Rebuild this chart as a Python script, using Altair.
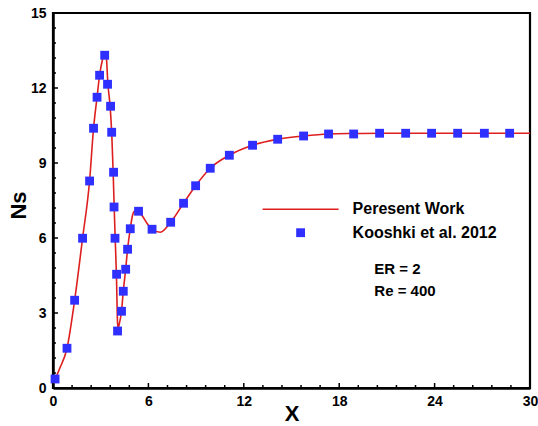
import altair as alt
import pandas as pd

# Present work (smooth line)
line_x = [0.0, 0.4, 0.88, 1.36, 1.86, 2.30, 2.55, 2.77, 2.93, 3.10, 3.28, 3.36, 3.45, 3.60,
          3.70, 3.78, 3.85, 3.91, 3.99, 4.06, 4.10, 4.18, 4.31, 4.42, 4.57, 4.69, 4.86, 5.00,
          5.15, 5.38, 5.60, 5.91, 6.23, 6.75, 7.40, 8.21, 8.97, 9.89, 11.09, 12.55, 14.13,
          15.76, 17.33, 18.91, 20.54, 22.5, 25.0, 30.0]
line_y = [0.15, 0.75, 1.59, 3.51, 5.99, 8.28, 10.39, 11.63, 12.51, 13.1, 13.45, 13.2, 12.2, 11.2,
          10.1, 8.7, 7.2, 6.0, 4.5, 2.6, 2.4, 2.6, 3.07, 3.87, 4.75, 5.55, 6.37, 6.9,
          7.08, 7.07, 6.9, 6.59, 6.35, 6.23, 6.63, 7.39, 8.09, 8.79, 9.31, 9.71, 9.95,
          10.08, 10.16, 10.18, 10.19, 10.19, 10.19, 10.19]

# Kooshki et al. 2012 (square markers)
pt_x = [0.13, 0.88, 1.36, 1.86, 2.30, 2.55, 2.77, 2.93, 3.25, 3.43, 3.62, 3.69, 3.81, 3.84,
        3.90, 4.00, 4.06, 4.31, 4.42, 4.57, 4.69, 4.86, 5.38, 6.23, 7.40, 8.21, 8.97, 9.89,
        11.09, 12.55, 14.13, 15.76, 17.33, 18.91, 20.54, 22.18, 23.81, 25.45, 27.13, 28.72]
pt_y = [0.36, 1.59, 3.51, 5.99, 8.28, 10.39, 11.63, 12.51, 13.31, 12.15, 11.27, 10.23, 8.63, 7.24,
        5.99, 4.55, 2.28, 3.07, 3.87, 4.75, 5.55, 6.37, 7.07, 6.35, 6.63, 7.39, 8.09, 8.79,
        9.31, 9.71, 9.95, 10.08, 10.16, 10.16, 10.19, 10.19, 10.19, 10.19, 10.19, 10.19]

x_major = [0, 6, 12, 18, 24, 30]
x_minor = [1.2, 2.4, 3.6, 4.8, 7.2, 8.4, 9.6, 10.8, 13.2, 14.4, 15.6, 16.8,
           19.2, 20.4, 21.6, 22.8, 25.2, 26.4, 27.6, 28.8]
y_major = [0, 3, 6, 9, 12, 15]
y_minor = [0.6, 1.2, 1.8, 2.4, 3.6, 4.2, 4.8, 5.4, 6.6, 7.2, 7.8, 8.4,
           9.6, 10.2, 10.8, 11.4, 12.6, 13.2, 13.8, 14.4]

W, H = 477, 375
FONT = "Liberation Sans"

xs = alt.Scale(domain=[0, 30], nice=False, zero=False)
ys = alt.Scale(domain=[0, 15], nice=False, zero=False)

line_df = pd.DataFrame({"x": line_x, "y": line_y})
pt_df = pd.DataFrame({"x": pt_x, "y": pt_y})

xaxis = alt.Axis(values=x_major, ticks=False, tickSize=0, grid=False, domainColor="black",
                 domainWidth=2.5, labelFont=FONT, labelFontWeight="bold", labelFontSize=14,
                 labelColor="black", labelPadding=6, title="X", titleFont=FONT,
                 titleFontWeight="bold", titleFontSize=22, titleColor="black",
                 titleY=32, titleBaseline="alphabetic", labelFlush=False)
yaxis = alt.Axis(values=y_major, ticks=False, tickSize=0, grid=False, domainColor="black",
                 domainWidth=2.5, labelFont=FONT, labelFontWeight="bold", labelFontSize=14,
                 labelColor="black", labelPadding=7, title="Ns", titleFont=FONT,
                 titleFontWeight="bold", titleFontSize=22, titleColor="black",
                 titleX=-35, titleY=192, titleBaseline="middle", titleAlign="center",
                 labelFlush=False)

line = alt.Chart(line_df).mark_line(color="#dd1f1f", strokeWidth=1.6, interpolate="monotone").encode(
    x=alt.X("x:Q", scale=xs, axis=xaxis),
    y=alt.Y("y:Q", scale=ys, axis=yaxis),
)
pts = alt.Chart(pt_df).mark_square(color="#2f2fff", opacity=1, size=78).encode(
    x=alt.X("x:Q", scale=xs),
    y=alt.Y("y:Q", scale=ys),
)

def xticks(vals, length):
    return alt.Chart(pd.DataFrame({"t": vals})).mark_rule(color="black", strokeWidth=1.5).encode(
        x=alt.X("t:Q", scale=xs), y=alt.value(H), y2=alt.value(H - length))

def yticks(vals, length):
    return alt.Chart(pd.DataFrame({"t": vals})).mark_rule(color="black", strokeWidth=1.5).encode(
        y=alt.Y("t:Q", scale=ys), x=alt.value(0), x2=alt.value(length))

# legend / annotations
leg_line = alt.Chart(pd.DataFrame({"a": [0]})).mark_rule(color="#dd1f1f", strokeWidth=1.6).encode(
    x=alt.value(209.6), x2=alt.value(285.6), y=alt.value(196.3))
leg_sq = alt.Chart(pd.DataFrame({"a": [0]})).mark_square(color="#2f2fff", opacity=1, size=78).encode(
    x=alt.value(247.6), y=alt.value(219.7))

labels = ["Peresent Work", "Kooshki et al. 2012", "ER = 2", "Re = 400"]
lab_x = [299.6, 299.6, 321.3, 321.3]
lab_y = [196.3, 219.7, 256.0, 277.7]
texts = []
for t, lx, ly in zip(labels, lab_x, lab_y):
    texts.append(alt.Chart(pd.DataFrame({"a": [0]})).mark_text(
        text=t, font=FONT, fontWeight="bold", fontSize=16 if lx < 300 else 15,
        align="left", baseline="middle", color="black").encode(
        x=alt.value(lx), y=alt.value(ly)))

chart = alt.layer(
    line, pts,
    xticks(x_major, 5), xticks(x_minor, 3),
    yticks(y_major, 5), yticks(y_minor, 3),
    leg_line, leg_sq, *texts,
).properties(
    width=W, height=H,
    autosize=alt.AutoSizeParams(type="none"),
    padding={"left": 53, "top": 13, "right": 8, "bottom": 38},
    background="white",
).configure_view(stroke="black", strokeWidth=2.2)

chart.save("out.html", embed_options={"renderer": "svg", "actions": False})
